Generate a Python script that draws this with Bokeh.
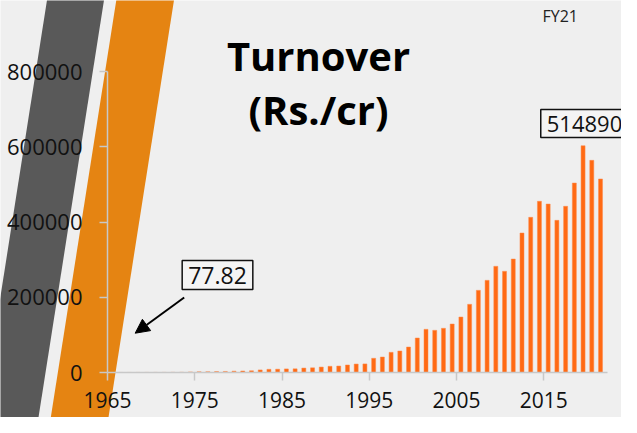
from bokeh.plotting import figure
from bokeh.models import (PolyAnnotation, Label, Arrow, NormalHead, FixedTicker,
                          NumeralTickFormatter, Range1d, LinearAxis)
from bokeh.embed import file_html
from bokeh.resources import INLINE

# ---- data ----
years = list(range(1965, 2022))
turnover = [
    77.82, 100, 130, 170, 220, 290, 370, 480, 620,          # 1965-1973
    1600, 1900, 2200, 2500, 2800, 3600,                     # 1974-1979
    4000, 4500, 6800, 8500, 8800, 9500, 9800, 11800, 12500, 14500,   # 1980-1989
    16500, 17200, 20000, 22500, 22800,                      # 1990-1994
    37800, 41200, 53700, 57200, 67800,                      # 1995-1999
    91800, 114900, 112200, 117600, 129000,                  # 2000-2004
    147600, 181400, 218600, 245200, 282500,                 # 2005-2009
    269200, 301900, 371100, 412800, 455400,                 # 2010-2014
    448200, 404800, 442100, 504100, 603300,                 # 2015-2019
    564400, 514890,                                         # 2020-2021
]
x_ticks = [1965, 1975, 1985, 1995, 2005, 2015]
y_ticks = [0, 200000, 400000, 600000, 800000]
first_label = "77.82"
last_label = "514890"

# ---- pixel -> data helpers (reference image pixels) ----
PX0, PXS = 115.0, 8.726   # x pixel of 1965, pixels per year
PY0, PYS = 380.0, 300.7 / 800000.0

def dx(px):
    return 1965 + (px - PX0) / PXS

def dy(py):
    return (PY0 - py) / PYS

p = figure(width=621, height=417, output_backend="svg", toolbar_location=None,
           x_range=Range1d(dx(8), dx(629)), y_range=Range1d(dy(425), dy(8)),
           x_axis_location=None, y_axis_location=None, min_border=0)
p.background_fill_color = "#efefef"
p.border_fill_color = "#efefef"
p.outline_line_color = None
p.grid.visible = False

# diagonal stripes
def stripe(x_top_left, x_top_right, color):
    s = -0.157
    ys = [-12, -12, 445, 445]
    xs = [x_top_left + s * (-12), x_top_right + s * (-12),
          x_top_right + s * 445, x_top_left + s * 445]
    return PolyAnnotation(xs=[dx(v) for v in xs], ys=[dy(v) for v in ys],
                          fill_color=color, fill_alpha=1.0, line_color=None,
                          level="underlay")

p.add_layout(stripe(55.7, 112.7, "#595959"))
p.add_layout(stripe(125.0, 182.7, "#E58412"))

# bars
p.vbar(x=[y + 0.5 for y in years], top=turnover, width=0.46,
       fill_color="#FF6A14", line_color="#FF8A4A", line_width=0.5)

# axes (fixed inside the full-canvas frame)
xaxis = LinearAxis(fixed_location=0, bounds=(1965, 2022.3))
yaxis = LinearAxis(fixed_location=1965, bounds=(0, 800000))
p.add_layout(xaxis, "below")
p.add_layout(yaxis, "left")
for ax in (xaxis, yaxis):
    ax.axis_line_color = "#C8C8C8"
    ax.axis_line_width = 1.5
    ax.major_tick_line_color = "#C8C8C8"
    ax.major_tick_line_width = 1.5
    ax.major_tick_in = 0
    ax.major_tick_out = 8
    ax.minor_tick_line_color = None
    ax.major_label_text_font = "Open Sans"
    ax.major_label_text_color = "#111111"

xaxis.ticker = FixedTicker(ticks=x_ticks)
xaxis.major_label_text_font_size = "21px"
xaxis.major_label_standoff = 11
yaxis.ticker = FixedTicker(ticks=y_ticks)
yaxis.formatter = NumeralTickFormatter(format="0")
yaxis.major_label_text_font_size = "22px"
yaxis.major_label_standoff = 17

# title
p.add_layout(Label(x=dx(326), y=dy(63), text="Turnover", text_align="center",
                   text_baseline="alphabetic", text_font="Open Sans",
                   text_font_style="bold", text_font_size="40px", text_color="#000000"))
p.add_layout(Label(x=dx(326), y=dy(117), text="(Rs./cr)", text_align="center",
                   text_baseline="alphabetic", text_font="Open Sans",
                   text_font_style="bold", text_font_size="40px", text_color="#000000"))
p.add_layout(Label(x=dx(550), y=dy(23), text="FY21", text_align="left",
                   text_baseline="alphabetic", text_font="Open Sans",
                   text_font_size="16px", text_color="#222222"))

# callouts
p.add_layout(Label(x=dx(225), y=dy(282.5), text=first_label, text_align="center",
                   text_baseline="middle", text_font="Open Sans", text_font_size="23px",
                   text_color="#111111", border_line_color="#111111", border_line_width=1.5,
                   background_fill_color="#f4f4f4", padding=6))
p.add_layout(Label(x=dx(592), y=dy(131), text=last_label, text_align="center",
                   text_baseline="middle", text_font="Open Sans", text_font_size="22px",
                   text_color="#111111", border_line_color="#111111", border_line_width=1.5,
                   background_fill_color="#f4f4f4", padding=6))
p.add_layout(Arrow(x_start=dx(191.7), y_start=dy(305), x_end=dx(142.7), y_end=dy(340.7),
                   line_color="#000000", line_width=2,
                   end=NormalHead(size=14, fill_color="#000000", line_color="#000000")))

open("out.html", "w").write(file_html(p, INLINE))
